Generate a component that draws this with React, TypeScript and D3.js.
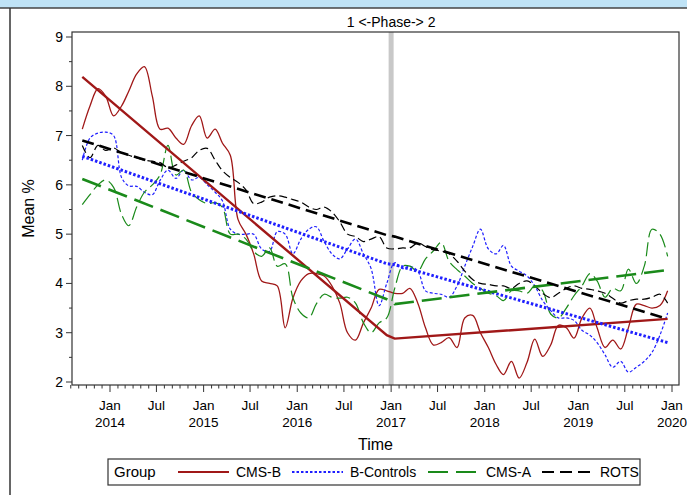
import React, { useEffect, useRef } from 'react';
import * as d3 from 'd3';

// monthly means, Sep 2013 .. Dec 2019 (76 months)
const startMonth = new Date(2013, 8, 15);
const cmsB = [7.13, 7.6, 7.95, 7.8, 7.4, 7.6, 7.9, 8.25, 8.4, 7.8, 7.13, 7.15, 6.95, 6.82, 7.2, 7.4, 6.95, 7.13, 6.85, 6.6,
  5.3, 5.0, 4.6, 4.05, 4.0, 3.95, 3.1, 3.7, 4.05, 4.2, 4.2, 4.15, 3.95, 3.6, 3.0, 2.85, 3.2, 3.5, 3.88, 3.85,
  3.8, 3.8, 3.9, 3.6, 3.1, 2.75, 2.8, 2.9, 2.7, 3.3, 3.35, 3.0, 2.7, 2.35, 2.15, 2.42, 2.08, 2.4, 2.87, 2.52,
  2.75, 3.15, 3.1, 2.89, 3.3, 3.5, 3.1, 2.7, 2.85, 2.67, 3.1, 3.58, 3.55, 3.5, 3.55, 3.85];
const bControls = [6.5, 6.95, 7.05, 7.07, 7.0, 6.15, 5.98, 5.97, 5.85, 5.8, 6.09, 6.3, 6.13, 6.3, 6.1, 6.15, 6.0, 5.85, 5.68, 5.1,
  5.0, 5.0, 5.0, 4.7, 4.65, 5.05, 5.0, 4.6, 4.9, 5.1, 5.15, 4.85, 4.6, 4.5, 4.7, 4.9, 4.6, 4.3, 3.55, 4.0,
  4.42, 4.3, 4.35, 4.25, 3.85, 3.8, 3.78, 3.72, 3.95, 4.35, 4.75, 5.1, 4.7, 4.6, 4.77, 4.35, 4.25, 4.15, 3.95, 3.65,
  3.45, 3.3, 3.3, 3.25, 3.05, 2.95, 2.8, 2.55, 2.3, 2.42, 2.2, 2.3, 2.42, 2.6, 2.95, 3.4];
const cmsA = [5.6, 5.8, 6.0, 6.1, 5.95, 5.4, 5.17, 5.55, 5.85, 6.0, 6.2, 6.8, 6.2, 6.3, 5.85, 5.7, 5.62, 5.64, 5.55, 5.0,
  5.0, 4.9, 4.65, 4.55, 4.72, 4.35, 4.4, 3.71, 3.4, 3.3, 3.58, 3.78, 3.72, 3.7, 3.72, 3.6, 3.2, 3.0, 3.2, 3.3,
  3.9, 4.35, 4.35, 4.25, 4.5, 4.66, 4.83, 4.45, 4.28, 4.15, 4.0, 3.9, 3.8, 3.75, 3.65, 3.85, 3.85, 3.8, 3.95, 3.85,
  3.38, 3.3, 3.5, 3.75, 3.95, 4.2, 4.05, 3.72, 3.9, 3.85, 4.29, 4.0, 4.35, 5.1, 5.0, 4.55];
const rots = [6.8, 6.55, 6.8, 6.7, 6.75, 6.65, 6.6, 6.55, 6.5, 6.48, 6.45, 6.35, 6.4, 6.48, 6.55, 6.7, 6.74, 6.5, 6.29, 6.15,
  6.05, 5.9, 5.62, 5.65, 5.75, 5.78, 5.75, 5.7, 5.65, 5.55, 5.5, 5.55, 5.45, 5.25, 5.0, 4.95, 4.85, 4.9, 4.95, 4.72,
  4.7, 4.72, 4.72, 4.82, 4.75, 4.68, 4.66, 4.6, 4.45, 4.25, 4.08, 4.0, 3.98, 3.95, 3.95, 3.9, 4.0, 4.05, 3.95, 3.8,
  3.71, 3.8, 3.9, 3.95, 3.9, 3.88, 3.85, 3.8, 3.7, 3.6, 3.65, 3.68, 3.68, 3.72, 3.78, 3.6];

// piecewise linear trends: phase 1 start, phase 1 end, phase 2 start, phase 2 end
const trendDates = [new Date(2013, 8, 15), new Date(2016, 11, 15), new Date(2017, 0, 15), new Date(2019, 11, 15)];
const trendCmsB = [8.19, 2.95, 2.88, 3.28];
const trendBControls = [6.58, 4.4, 4.38, 2.8];
const trendCmsA = [6.12, 3.68, 3.58, 4.27];
const trendRots = [6.9, 4.98, 4.95, 3.28];

const phaseDate = new Date(2017, 0, 1);
const yTicks = [2, 3, 4, 5, 6, 7, 8, 9];

const groups = [
  { name: 'CMS-B', values: cmsB, trend: trendCmsB, color: '#a01818', rawDash: null, trendDash: null, rawW: 1.3, trendW: 2.4 },
  { name: 'B-Controls', values: bControls, trend: trendBControls, color: '#1f1fff', rawDash: '3,2', trendDash: '2.5,2', rawW: 1.2, trendW: 3 },
  { name: 'CMS-A', values: cmsA, trend: trendCmsA, color: '#1a8a1a', rawDash: '14,5', trendDash: '20,8', rawW: 1.2, trendW: 2.6 },
  { name: 'ROTS', values: rots, trend: trendRots, color: '#000000', rawDash: '8,4', trendDash: '12,6', rawW: 1.2, trendW: 2.6 },
];

export default function App() {
  const svgRef = useRef(null);

  useEffect(() => {
    const svg = d3.select(svgRef.current);
    svg.selectAll('*').remove();
    const font = "'Liberation Sans', Arial, sans-serif";

    const frame = { left: 72, top: 32, right: 679, bottom: 385 };
    const x = d3.scaleTime().domain([new Date(2014, 0, 1), new Date(2020, 0, 1)]).range([110, 672]);
    const y = d3.scaleLinear().domain([2, 9]).range([382, 37]);

    // header band + panel borders
    svg.append('rect').attr('x', 0).attr('y', 0).attr('width', 687).attr('height', 8).attr('fill', '#bfe3f6');
    svg.append('line').attr('x1', 0).attr('x2', 687).attr('y1', 8).attr('y2', 8).attr('stroke', '#444').attr('stroke-width', 1.5);
    svg.append('line').attr('x1', 10).attr('x2', 10).attr('y1', 8).attr('y2', 495).attr('stroke', '#333').attr('stroke-width', 1.5);

    // phase reference line
    svg.append('line')
      .attr('x1', x(phaseDate)).attr('x2', x(phaseDate))
      .attr('y1', frame.top).attr('y2', frame.bottom)
      .attr('stroke', '#c8c8c8').attr('stroke-width', 5);

    svg.append('text').attr('x', x(phaseDate)).attr('y', 27).attr('text-anchor', 'middle')
      .attr('font-family', font).attr('font-size', 14).text('1 <-Phase-> 2');

    const months = d3.range(cmsB.length).map(i => d3.timeMonth.offset(startMonth, i));
    const raw = d3.line<number>().x((d, i) => x(months[i])).y(d => y(d)).curve(d3.curveCatmullRom.alpha(0.5));
    const straight = d3.line<number>().x((d, i) => x(trendDates[i])).y(d => y(d));

    const plot = svg.append('g');
    groups.forEach(g => {
      plot.append('path').attr('d', raw(g.values)).attr('fill', 'none').attr('stroke', g.color)
        .attr('stroke-width', g.rawW).attr('stroke-dasharray', g.rawDash);
    });
    groups.forEach(g => {
      plot.append('path').attr('d', straight(g.trend)).attr('fill', 'none').attr('stroke', g.color)
        .attr('stroke-width', g.trendW).attr('stroke-dasharray', g.trendDash);
    });

    // frame
    svg.append('rect').attr('x', frame.left).attr('y', frame.top)
      .attr('width', frame.right - frame.left).attr('height', frame.bottom - frame.top)
      .attr('fill', 'none').attr('stroke', '#333').attr('stroke-width', 1.2);

    // y axis
    const ya = svg.append('g').attr('font-family', font);
    yTicks.forEach(t => {
      ya.append('line').attr('x1', frame.left - 6).attr('x2', frame.left).attr('y1', y(t)).attr('y2', y(t)).attr('stroke', '#333');
      ya.append('text').attr('x', frame.left - 9).attr('y', y(t) + 5).attr('text-anchor', 'end').attr('font-size', 14).text(t);
    });
    d3.range(2.5, 9, 1).forEach(t => {
      ya.append('line').attr('x1', frame.left - 3).attr('x2', frame.left).attr('y1', y(t)).attr('y2', y(t)).attr('stroke', '#333');
    });
    svg.append('text').attr('transform', `translate(34,${(frame.top + frame.bottom) / 2}) rotate(-90)`)
      .attr('text-anchor', 'middle').attr('font-family', font).attr('font-size', 16).text('Mean %');

    // x axis
    const xa = svg.append('g').attr('font-family', font);
    const allMonths = d3.timeMonth.range(new Date(2013, 7, 1), new Date(2020, 1, 1));
    allMonths.forEach(m => {
      const major = m.getMonth() === 0 || m.getMonth() === 6;
      xa.append('line').attr('x1', x(m)).attr('x2', x(m)).attr('y1', frame.bottom)
        .attr('y2', frame.bottom + (major ? 7 : 3.5)).attr('stroke', '#333');
      if (major) {
        xa.append('text').attr('x', x(m)).attr('y', 410).attr('text-anchor', 'middle').attr('font-size', 13.5)
          .text(m.getMonth() === 0 ? 'Jan' : 'Jul');
        if (m.getMonth() === 0) {
          xa.append('text').attr('x', x(m)).attr('y', 427).attr('text-anchor', 'middle').attr('font-size', 13.5)
            .text(m.getFullYear());
        }
      }
    });
    svg.append('text').attr('x', (frame.left + frame.right) / 2).attr('y', 450).attr('text-anchor', 'middle')
      .attr('font-family', font).attr('font-size', 16).text('Time');

    // legend
    const lg = svg.append('g').attr('font-family', font).attr('font-size', 14);
    lg.append('rect').attr('x', 108).attr('y', 459).attr('width', 532).attr('height', 26)
      .attr('fill', 'white').attr('stroke', '#333').attr('stroke-width', 1.2);
    lg.append('text').attr('x', 114).attr('y', 477).attr('font-size', 15).text('Group');
    const lx = [178, 292, 428, 542];
    groups.forEach((g, i) => {
      lg.append('line').attr('x1', lx[i]).attr('x2', lx[i] + 51).attr('y1', 472).attr('y2', 472)
        .attr('stroke', g.color).attr('stroke-width', 2).attr('stroke-dasharray', g.trendDash);
      lg.append('text').attr('x', lx[i] + 58).attr('y', 477).text(g.name);
    });
  }, []);

  return (
    <svg ref={svgRef} width={687} height={495} style={{ position: 'absolute', left: 0, top: 0, background: 'white' }} />
  );
}
